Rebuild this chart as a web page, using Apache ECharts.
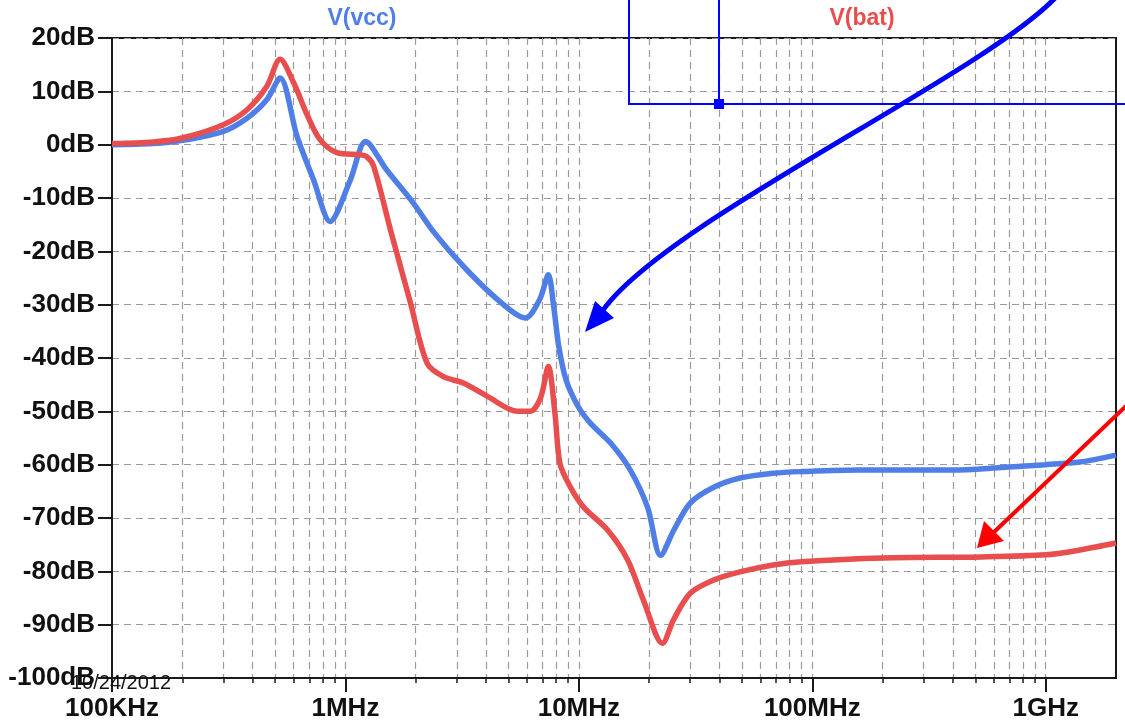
<!DOCTYPE html>
<html>
<head>
<meta charset="utf-8">
<script src="https://cdn.jsdelivr.net/npm/echarts@6/dist/echarts.min.js"></script>
<style>
  html, body { margin: 0; padding: 0; background: #fff; }
  #chart { width: 1125px; height: 721px; }
</style>
</head>
<body>
<div id="chart"></div>
<script>
// frequency tick labels, one per decade from 100KHz
const freqTickLabels = ["100KHz", "1MHz", "10MHz", "100MHz", "1GHz"];
const decades = [1e5, 1e6, 1e7, 1e8, 1e9];
const gridMultipliers = [1, 2, 3, 4, 5, 6, 7, 8, 9];

// V(vcc) trace
const vccFreq = [1e5, 1.5e5, 2e5, 3e5, 3.8e5, 4.6e5, 5.25e5, 6.2e5, 7.3e5, 8.6e5,
  1.05e6, 1.22e6, 1.5e6, 1.95e6, 2.4e6, 3.2e6, 4.5e6, 5.9e6, 6.8e6, 7.4e6,
  7.8e6, 8.2e6, 8.8e6, 9.9e6, 1.12e7, 1.37e7, 1.66e7, 1.97e7, 2.24e7, 2.55e7,
  3e7, 3.8e7, 4.9e7, 6.8e7, 9e7, 1.6e8, 4e8, 6.2e8, 1e9, 1.4e9, 2e9];
const vccDb = [0, 0.2, 0.8, 2.5, 5, 8.4, 12.5, 1.6, -6.6, -14.4,
  -6.6, 0.6, -4.7, -10.9, -16.5, -22.8, -29.1, -32.5, -29, -24.4,
  -30.3, -37.8, -44, -49, -52.2, -56, -61, -68, -77, -72.3,
  -67.2, -64.2, -62.5, -61.6, -61.3, -61, -61, -60.6, -60, -59.5, -58.2];

// V(bat) trace
const batFreq = [1e5, 1.5e5, 2e5, 3e5, 3.8e5, 4.6e5, 5.25e5, 6e5, 6.9e5, 7.8e5,
  9.2e5, 1.16e6, 1.23e6, 1.32e6, 1.56e6, 1.9e6, 2.24e6, 2.63e6, 3.2e6, 4.06e6,
  5.46e6, 6.2e6, 6.85e6, 7.4e6, 7.9e6, 8.3e6, 9.2e6, 1.05e7, 1.33e7, 1.62e7,
  1.89e7, 2.28e7, 2.55e7, 3e7, 3.8e7, 4.9e7, 6.8e7, 9e7, 2e8, 5.3e8,
  1e9, 1.4e9, 2e9];
const batDb = [0.2, 0.5, 1.25, 3.75, 6.6, 10.9, 16, 11.6, 5.3, 0.9,
  -1.5, -1.9, -2.2, -4, -16, -29.7, -41, -43.5, -44.7, -47.2,
  -50, -50, -47.5, -41.6, -50.4, -59.8, -64.2, -68, -72.3, -77.9,
  -85.4, -93.5, -89, -84.1, -81.6, -80.1, -78.8, -78.2, -77.5, -77.3,
  -76.9, -76, -74.7];

const vccColor = "#4f7fe6";
const batColor = "#e84e4e";

const gridFreqs = [];
decades.forEach(d => gridMultipliers.forEach(m => {
  if (d * m > 1e5 && d * m < 2e9) gridFreqs.push(d * m);
}));

function freqLabel(v) {
  const lg = Math.log10(v);
  const n = Math.round(lg);
  if (Math.abs(lg - n) > 1e-6) return "";
  return freqTickLabels[n - 5] || "";
}

const chart = echarts.init(document.getElementById("chart"));
const gridDash = { color: "#9a9a9a", width: 1.2, type: [7, 5] };

const option = {
  animation: false,
  backgroundColor: "#fff",
  grid: {
    show: true,
    left: 112,
    right: 9,
    top: 38,
    bottom: 43,
    outerBoundsMode: "none",
    borderColor: "#1a1a1a",
    borderWidth: 2
  },
  xAxis: [
    {
      type: "log",
      logBase: 10,
      min: 1e5,
      max: 2e9,
      axisLine: { show: true, onZero: false, lineStyle: { color: "#1a1a1a", width: 2 } },
      axisTick: { show: true, length: 14, lineStyle: { color: "#1a1a1a", width: 2 } },
      axisLabel: {
        formatter: freqLabel,
        color: "#111",
        fontSize: 26,
        fontWeight: "bold",
        fontFamily: "Liberation Sans, Arial, sans-serif",
        margin: 18,
        showMaxLabel: false
      },
      splitLine: { show: false },
      z: 5
    },
    {
      type: "log",
      logBase: 10,
      min: 1e5,
      max: 2e9,
      position: "bottom",
      axisLine: { show: false, onZero: false },
      axisTick: {
        show: true,
        length: 5,
        customValues: gridFreqs,
        lineStyle: { color: "#1a1a1a", width: 1.5 }
      },
      axisLabel: { show: false },
      splitLine: { show: true, lineStyle: gridDash }
    }
  ],
  yAxis: {
    type: "value",
    min: -100,
    max: 20,
    interval: 10,
    axisLine: { show: true, onZero: false, lineStyle: { color: "#1a1a1a", width: 2 } },
    axisTick: { show: true, length: 14, lineStyle: { color: "#1a1a1a", width: 2 } },
    axisLabel: {
      formatter: "{value}dB",
      color: "#111",
      fontSize: 26,
      fontWeight: "bold",
      fontFamily: "Liberation Sans, Arial, sans-serif",
      margin: 17
    },
    splitLine: { show: true, lineStyle: gridDash }
  },
  series: [
    {
      name: "V(vcc)",
      type: "line",
      xAxisIndex: 0,
      data: vccFreq.map((f, i) => [f, vccDb[i]]),
      showSymbol: false,
      smooth: 0.3,
      lineStyle: { color: vccColor, width: 5.5 },
      itemStyle: { color: vccColor },
      z: 3
    },
    {
      name: "V(bat)",
      type: "line",
      xAxisIndex: 0,
      data: batFreq.map((f, i) => [f, batDb[i]]),
      showSymbol: false,
      smooth: 0.3,
      lineStyle: { color: batColor, width: 5.5 },
      itemStyle: { color: batColor },
      z: 4
    }
  ],
  graphic: [
    {
      type: "text",
      style: { x: 362, y: 19, text: "V(vcc)", fill: vccColor, font: "bold 23px Liberation Sans, Arial", textAlign: "center", textVerticalAlign: "middle" }
    },
    {
      type: "text",
      style: { x: 862, y: 19, text: "V(bat)", fill: batColor, font: "bold 23px Liberation Sans, Arial", textAlign: "center", textVerticalAlign: "middle" }
    },
    {
      type: "text",
      z: 50,
      style: { x: 71, y: 683, text: "10/24/2012", fill: "#111", font: "20px Liberation Sans, Arial", textVerticalAlign: "middle" }
    },
    // blue probe box
    {
      type: "polyline",
      z: 60,
      shape: { points: [[629, -2], [629, 104], [1127, 104]] },
      style: { stroke: "#0000ff", lineWidth: 2, fill: null }
    },
    {
      type: "line",
      z: 60,
      shape: { x1: 719, y1: -2, x2: 719, y2: 104 },
      style: { stroke: "#0000ff", lineWidth: 2 }
    },
    {
      type: "rect",
      z: 60,
      shape: { x: 714, y: 99, width: 10, height: 10 },
      style: { fill: "#0000ff" }
    },
    // blue curved arrow
    {
      type: "bezierCurve",
      z: 60,
      shape: { x1: 1058, y1: -5, cpx1: 985, cpy1: 75, cpx2: 662, cpy2: 222, x2: 601, y2: 313 },
      style: { stroke: "#0000ff", lineWidth: 5, fill: null }
    },
    {
      type: "polygon",
      z: 60,
      shape: { points: [[585, 332], [614, 318], [595, 301]] },
      style: { fill: "#0000ff" }
    },
    // red arrow
    {
      type: "line",
      z: 60,
      shape: { x1: 1127, y1: 405, x2: 992, y2: 534 },
      style: { stroke: "#ff0000", lineWidth: 4 }
    },
    {
      type: "polygon",
      z: 60,
      shape: { points: [[977, 548], [1004, 541], [984, 521]] },
      style: { fill: "#ff0000" }
    }
  ]
};

option && chart.setOption(option);
</script>
</body>
</html>
